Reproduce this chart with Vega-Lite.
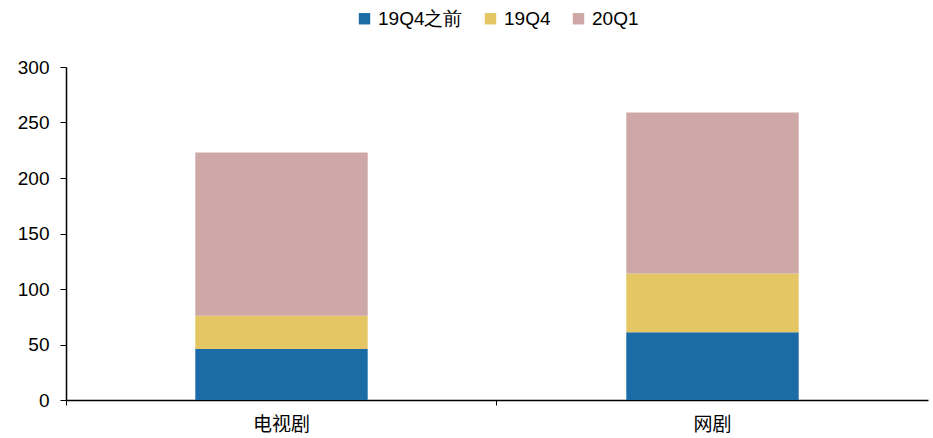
{
  "$schema": "https://vega.github.io/schema/vega-lite/v6.json",
  "width": 862,
  "height": 333,
  "autosize": {"type": "none"},
  "padding": {"left": 66, "top": 67, "right": 5, "bottom": 38},
  "background": "white",
  "data": {
    "values": [
      {"类型": "电视剧", "系列": "19Q4之前", "k": 1, "数量": 46},
      {"类型": "电视剧", "系列": "19Q4", "k": 2, "数量": 30},
      {"类型": "电视剧", "系列": "20Q1", "k": 3, "数量": 147},
      {"类型": "网剧", "系列": "19Q4之前", "k": 1, "数量": 61},
      {"类型": "网剧", "系列": "19Q4", "k": 2, "数量": 53},
      {"类型": "网剧", "系列": "20Q1", "k": 3, "数量": 145}
    ]
  },
  "mark": {"type": "bar"},
  "encoding": {
    "x": {
      "field": "类型",
      "type": "nominal",
      "sort": ["电视剧", "网剧"],
      "scale": {"paddingInner": 0.6, "paddingOuter": 0.3},
      "axis": {
        "title": null,
        "labelAngle": 0,
        "labelFont": "Noto Sans CJK SC",
        "labelFontSize": 19,
        "labelColor": "#000",
        "labelPadding": 10,
        "domainColor": "#000",
        "domainWidth": 1.5,
        "tickColor": "#000",
        "tickSize": 5,
        "bandPosition": -0.75
      }
    },
    "y": {
      "field": "数量",
      "type": "quantitative",
      "aggregate": "sum",
      "stack": "zero",
      "scale": {"domain": [0, 300]},
      "axis": {
        "title": null,
        "values": [0, 50, 100, 150, 200, 250, 300],
        "grid": false,
        "labelFont": "Liberation Sans",
        "labelFontSize": 19,
        "labelColor": "#000",
        "labelPadding": 11,
        "domainColor": "#000",
        "domainWidth": 1.5,
        "tickColor": "#000",
        "tickSize": 6
      }
    },
    "color": {
      "field": "系列",
      "type": "nominal",
      "scale": {
        "domain": ["19Q4之前", "19Q4", "20Q1"],
        "range": ["#1b6ba7", "#e4c764", "#cea7a7"]
      },
      "legend": {
        "title": null,
        "orient": "top",
        "direction": "horizontal",
        "symbolType": "square",
        "symbolSize": 130,
        "symbolStrokeWidth": 0,
        "labelFont": "Liberation Sans",
        "labelFontSize": 19,
        "labelColor": "#000",
        "columnPadding": 18,
        "labelOffset": 4,
        "offset": 38
      }
    },
    "order": {"field": "k", "type": "quantitative", "sort": "ascending"}
  },
  "config": {
    "view": {"stroke": null},
    "legend": {"layout": {"top": {"anchor": "middle"}}}
  }
}
